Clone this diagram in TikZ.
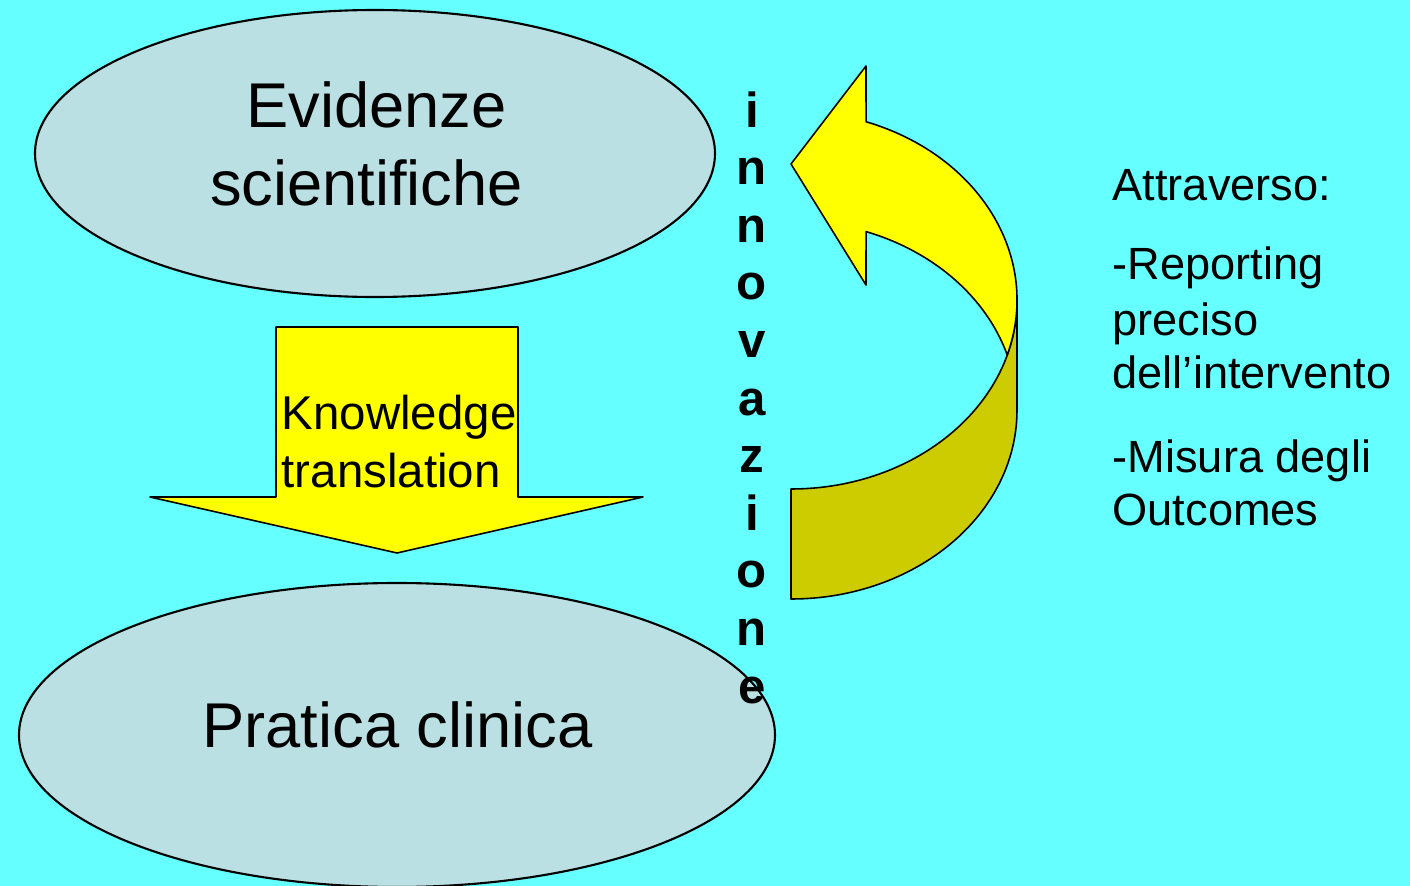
\documentclass[tikz,border=0pt]{standalone}
\usepackage{fontspec}
\setmainfont{Liberation Sans}
\usetikzlibrary{shapes.geometric}
\definecolor{bgc}{HTML}{66FFFF}
\definecolor{ellc}{HTML}{BBE0E3}
\definecolor{yel}{HTML}{FFFF00}
\definecolor{dyel}{HTML}{CCCC00}
\begin{document}
\begin{tikzpicture}[
  oval/.style={ellipse, draw=black, line width=0.6pt, fill=ellc, inner sep=0pt},
  big/.style={font=\fontsize{18}{22}\selectfont, inner sep=0pt},
  kt/.style={font=\fontsize{13.5}{16}\selectfont, inner sep=0pt},
  rt/.style={font=\fontsize{12.85}{15}\selectfont, inner sep=0pt},
  vert/.style={font=\fontsize{14}{16}\selectfont\bfseries, inner sep=0pt},
  arrowshape/.style={draw=black, line width=0.45pt, fill=yel, line join=round},
  backband/.style={draw=black, line width=0.45pt, fill=dyel, line join=round},
]
\fill[bgc] (0,0) rectangle (14.10,-8.86);
\useasboundingbox (0,0) rectangle (14.10,-8.86);

% ellipses
\node[oval, minimum width=6.80cm, minimum height=2.87cm] (ev) at (3.75,-1.535) {};
\node[big, anchor=base] (evt1) at (3.765,-1.27) {Evidenze};
\node[big, anchor=base] (evt2) at (3.665,-2.05) {scientifiche};

\node[oval, minimum width=7.56cm, minimum height=3.04cm] (pc) at (3.97,-7.35) {};
\node[big, anchor=base] (pct) at (3.975,-7.48) {Pratica clinica};

% knowledge translation arrow
\coordinate (kt1) at (2.76,-3.27);
\coordinate (kt2) at (5.18,-3.27);
\coordinate (kt3) at (5.18,-4.97);
\coordinate (kt4) at (6.43,-4.97);
\coordinate (kt5) at (3.97,-5.53);
\coordinate (kt6) at (1.50,-4.97);
\coordinate (kt7) at (2.76,-4.97);
\draw[arrowshape] (kt1) -- (kt2) -- (kt3) -- (kt4) -- (kt5) -- (kt6) -- (kt7) -- cycle;
\node[kt, anchor=base west] (k1) at (2.81,-4.30) {Knowledge};
\node[kt, anchor=base west] (k2) at (2.81,-4.87) {translation};

% curved arrow
\coordinate (c1) at (7.91,-3.00);
\coordinate (c2) at (7.91,-4.10);
\draw[backband] (c1) ++(-90:2.26 and 1.89)
   arc[start angle=-90, end angle=0, x radius=2.26, y radius=1.89]
   -- ++(0,-1.10)
   arc[start angle=0, end angle=-90, x radius=2.26, y radius=1.89]
   -- cycle;
\draw[arrowshape] (c1) ++(70.6:2.26 and 1.89)
   arc[start angle=70.6, end angle=-16.9, x radius=2.26, y radius=1.89]
   arc[start angle=16.9, end angle=70.6, x radius=2.26, y radius=1.89]
   -- (8.66,-2.85) -- (7.91,-1.64) -- (8.66,-0.66) -- cycle;

% innovazione
\foreach \ch [count=\k from 0] in {i,n,n,o,v,a,z,i,o,n,e}
  \node[vert, anchor=base] (v\k) at (7.52,{-1.27-0.576*\k}) {\ch};

% right text
\node[rt, anchor=base west] (r1) at (11.12,-2.00) {Attraverso:};
\node[rt, anchor=base west] (r2) at (11.12,-2.80) {-Reporting};
\node[rt, anchor=base west] (r3) at (11.12,-3.35) {preciso};
\node[rt, anchor=base west] (r4) at (11.12,-3.89) {dell’intervento};
\node[rt, anchor=base west] (r5) at (11.12,-4.72) {-Misura degli};
\node[rt, anchor=base west] (r6) at (11.12,-5.25) {Outcomes};
\end{tikzpicture}
\end{document}
